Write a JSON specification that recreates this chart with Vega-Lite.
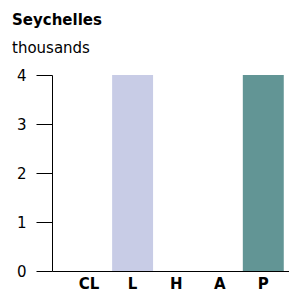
{
  "$schema": "https://vega.github.io/schema/vega-lite/v6.json",
  "width": 237,
  "height": 196,
  "autosize": {"type": "none"},
  "padding": {"left": 52, "top": 75, "right": 0, "bottom": 26},
  "background": "white",
  "title": {
    "text": "Seychelles",
    "subtitle": "thousands",
    "anchor": "start",
    "frame": "group",
    "dx": -40,
    "offset": 12,
    "font": "DejaVu Sans",
    "fontSize": 15,
    "fontWeight": "bold",
    "color": "#000000",
    "subtitleFont": "DejaVu Sans",
    "subtitleFontSize": 15,
    "subtitleColor": "#000000",
    "subtitlePadding": 13
  },
  "data": {
    "values": [
      {"cat": "CL", "value": 0},
      {"cat": "L", "value": 4},
      {"cat": "H", "value": 0},
      {"cat": "A", "value": 0},
      {"cat": "P", "value": 4}
    ]
  },
  "mark": {"type": "bar"},
  "encoding": {
    "x": {
      "field": "cat",
      "type": "nominal",
      "sort": ["CL", "L", "H", "A", "P"],
      "scale": {"paddingInner": 0.06, "paddingOuter": 0.25, "align": 0.76},
      "axis": {
        "title": null,
        "labelAngle": 0,
        "ticks": false,
        "domain": true,
        "domainColor": "#000000",
        "domainWidth": 1,
        "labelFont": "DejaVu Sans",
        "labelFontSize": 15,
        "labelFontWeight": "bold",
        "labelColor": "#000000",
        "labelPadding": 5
      }
    },
    "y": {
      "field": "value",
      "type": "quantitative",
      "scale": {"domain": [0, 4], "nice": false},
      "axis": {
        "title": null,
        "values": [0, 1, 2, 3, 4],
        "grid": false,
        "tickSize": 16,
        "tickColor": "#000000",
        "tickWidth": 1,
        "domainColor": "#000000",
        "domainWidth": 1,
        "labelFont": "DejaVu Sans",
        "labelFontSize": 15,
        "labelColor": "#000000",
        "labelPadding": 10
      }
    },
    "color": {
      "field": "cat",
      "type": "nominal",
      "scale": {"domain": ["CL", "L", "H", "A", "P"], "range": ["#c8cce6", "#c8cce6", "#c8cce6", "#c8cce6", "#629595"]},
      "legend": null
    }
  },
  "config": {"view": {"stroke": null}}
}
